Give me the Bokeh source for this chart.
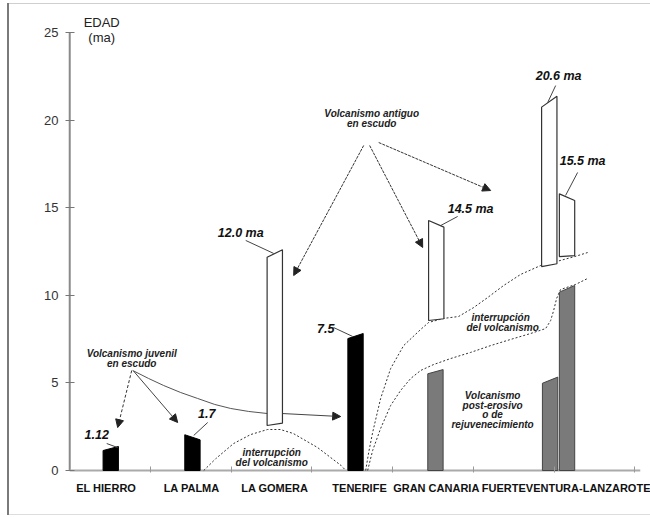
from bokeh.plotting import figure
from bokeh.models import Range1d, FixedTicker, Arrow, NormalHead, ColumnDataSource
from bokeh.core.properties import value
from bokeh.embed import file_html
from bokeh.resources import INLINE

# ---------------- data ----------------
islands = ["EL  HIERRO", "LA PALMA", "LA GOMERA", "TENERIFE", "GRAN CANARIA", "FUERTEVENTURA-LANZAROTE"]
island_pos = [0.47, 1.51, 2.54, 3.59, 4.54, 6.15]
sep_ticks = [1, 2, 3, 4, 5, 6, 7]
y_ticks = [0, 5, 10, 15, 20, 25]
x_end = 7.07

# juvenile shield volcanism (black)
juv_x = [0.508, 1.52, 3.54]
juv_top_left = [1.14, 2.04, 7.53]
juv_top_right = [1.37, 1.75, 7.82]
juv_labels = ["1.12", "1.7", "7.5"]

# old shield volcanism (white)
old_x = [2.54, 4.54, 5.94, 6.16]
old_bottom_left = [2.57, 8.56, 11.64, 12.21]
old_bottom_right = [2.70, 8.66, 11.80, 12.27]
old_top_left = [12.17, 14.27, 20.74, 15.79]
old_top_right = [12.60, 13.89, 21.36, 15.41]
old_labels = ["12.0 ma", "14.5 ma", "20.6 ma", "15.5 ma"]

# post-erosive / rejuvenation volcanism (grey)
post_x = [4.53, 5.95, 6.16]
post_top_left = [5.52, 4.98, 10.18]
post_top_right = [5.76, 5.33, 10.56]

bar_w = 0.19

# hiatus curves (dotted)
gap1_x = [1.66, 1.81, 2.03, 2.24, 2.45, 2.61, 2.77, 3.07, 3.36, 3.42]
gap1_y = [0, 0.68, 1.54, 2.05, 2.34, 2.34, 2.11, 1.31, 0.29, 0]
gap_up_x = [3.666, 3.703, 3.752, 3.851, 3.975, 4.136, 4.347, 4.446, 4.632, 4.817,
            5.003, 5.176, 5.375, 5.585, 5.833, 6.031, 6.254, 6.415]
gap_up_y = [0, 1.03, 2.17, 4.11, 5.82, 7.13, 8.05, 8.45, 8.68, 8.79,
            9.30, 9.87, 10.56, 11.19, 11.70, 11.93, 12.21, 12.44]
gap_lo_x = [3.690, 3.752, 3.851, 3.975, 4.099, 4.223, 4.347, 4.508, 4.718, 4.966,
            5.214, 5.461, 5.709, 5.895, 5.957, 5.994, 6.031, 6.080, 6.266, 6.415]
gap_lo_y = [0, 1.14, 2.40, 3.71, 4.57, 5.25, 5.71, 6.05, 6.39, 6.74,
            7.13, 7.48, 7.82, 8.10, 8.56, 9.13, 9.82, 10.33, 10.62, 10.96]
# thin solid curve from the juvenile label towards La Gomera
juv_curve_x = [0.780, 0.978, 1.164, 1.375, 1.585, 1.796, 1.994, 2.217, 2.452, 2.638]
juv_curve_y = [5.71, 5.25, 4.85, 4.45, 4.11, 3.77, 3.54, 3.37, 3.25, 3.25]

# ---------------- figure ----------------
p = figure(width=650, height=517, x_range=Range1d(-0.04, x_end), y_range=Range1d(-0.114, 26.826),
           output_backend="svg", toolbar_location=None,
           min_border_left=66, min_border_right=10, min_border_top=0, min_border_bottom=45)
p.grid.visible = False
p.outline_line_color = None
p.background_fill_color = None
p.border_fill_color = None
p.styles = {
    "background": ("linear-gradient(#7a7a7a,#7a7a7a) 7px 3px / 2px 512px no-repeat, "
                   "linear-gradient(#cfcfcf,#cfcfcf) 7px 3px / 643px 1px no-repeat, "
                   "linear-gradient(#dddddd,#dddddd) 7px 514px / 643px 1px no-repeat, white"),
}

# y axis (line drawn as a glyph below)
p.yaxis.ticker = FixedTicker(ticks=y_ticks, minor_ticks=[])
p.yaxis.axis_line_color = None
p.yaxis.major_tick_line_color = "#777"
p.yaxis.major_tick_in = 8
p.yaxis.major_tick_out = 1
p.yaxis.minor_tick_line_color = None
p.yaxis.major_label_text_font = "Liberation Sans"
p.yaxis.major_label_text_font_size = "13px"
p.yaxis.major_label_text_color = "#333"
p.yaxis.major_label_standoff = 7

# x axis
p.xaxis.ticker = FixedTicker(ticks=island_pos, minor_ticks=sep_ticks)
p.xaxis.major_label_overrides = {pos: name for pos, name in zip(island_pos, islands)}
p.xaxis.axis_line_color = None
p.xaxis.major_tick_in = 0
p.xaxis.major_tick_out = 0
p.xaxis.minor_tick_in = 6
p.xaxis.minor_tick_out = 0
p.xaxis.minor_tick_line_color = "#999"
p.xaxis.major_label_text_font = "Liberation Sans"
p.xaxis.major_label_text_font_style = "bold"
p.xaxis.major_label_text_font_size = "11px"
p.xaxis.major_label_text_color = "#111"
p.xaxis.major_label_standoff = 9

# axis lines
p.segment([0], [y_ticks[0]], [0], [y_ticks[-1]], line_color="#8a8a8a", line_width=2)
p.segment([0], [0], [x_end], [0], line_color="#aaaaaa", line_width=2)

# ---------------- curves ----------------
dot = dict(line_color="#333", line_width=1, line_dash="2 2")
p.line(gap1_x, gap1_y, **dot)
p.line(gap_up_x, gap_up_y, **dot)
p.line(gap_lo_x, gap_lo_y, **dot)
p.line(juv_curve_x, juv_curve_y, line_color="#555", line_width=1)

# ---------------- bars ----------------
def quads(xc, bl, br, tl, tr):
    xs, ys = [], []
    for c, a, b, d, e in zip(xc, bl, br, tl, tr):
        xs.append([c - bar_w / 2, c + bar_w / 2, c + bar_w / 2, c - bar_w / 2])
        ys.append([a, b, e, d])
    return xs, ys

xs, ys = quads(juv_x, [0] * len(juv_x), [0] * len(juv_x), juv_top_left, juv_top_right)
p.patches(xs, ys, fill_color="black", line_color="black", line_width=1)
xs, ys = quads(old_x, old_bottom_left, old_bottom_right, old_top_left, old_top_right)
p.patches(xs, ys, fill_color="white", line_color="#333", line_width=1.2)
xs, ys = quads(post_x, [0] * len(post_x), [0] * len(post_x), post_top_left, post_top_right)
p.patches(xs, ys, fill_color="#7a7a7a", line_color="#444", line_width=1)

# ---------------- leader lines ----------------
lead_x0 = [0.458, 1.709, 3.269, 2.180, 4.805, 6.019, 6.291]
lead_y0 = [1.54, 2.74, 8.16, 13.13, 14.50, 21.97, 17.01]
lead_x1 = [0.594, 1.536, 3.505, 2.526, 4.594, 5.920, 6.142]
lead_y1 = [1.31, 2.00, 7.65, 12.39, 13.98, 21.00, 15.70]
p.segment(lead_x0, lead_y0, lead_x1, lead_y1, line_color="#444", line_width=1)

# ---------------- arrows ----------------
head = lambda: NormalHead(size=8, fill_color="#222", line_color="#222")
p.add_layout(Arrow(end=head(), x_start=0.768, y_start=5.71, x_end=0.594, y_end=2.45,
                   line_color="#333", line_width=1, line_dash="3 2"))
p.add_layout(Arrow(end=head(), x_start=0.790, y_start=5.68, x_end=1.337, y_end=2.74,
                   line_color="#444", line_width=1))
p.add_layout(Arrow(end=head(), x_start=2.638, y_start=3.25, x_end=3.356, y_end=3.08,
                   line_color="#444", line_width=1))
arr_src = ColumnDataSource(dict(x0=[3.641, 3.715, 3.827], y0=[18.55, 18.55, 18.72],
                                x1=[2.774, 4.372, 5.214], y1=[11.13, 12.73, 15.98]))
p.add_layout(Arrow(end=head(), source=arr_src, x_start="x0", y_start="y0", x_end="x1", y_end="y1",
                   line_color="#333", line_width=1, line_dash="3 1"))

# ---------------- texts ----------------
val_x = [0.334, 1.697, 3.170, 2.118, 4.966, 6.056, 6.353]
val_y = [2.05, 3.25, 8.10, 13.58, 14.95, 22.49, 17.64]
p.text(val_x, val_y, text=juv_labels + old_labels, text_font=value("Liberation Sans"),
       text_font_style="bold italic", text_font_size="12.5px", text_align="center",
       text_baseline="middle", text_color="#111")

note_txt = ["Volcanismo juvenil", "en escudo", "Volcanismo antiguo", "en escudo",
            "interrupción", "del volcanismo", "interrupción", "del volcanismo",
            "Volcanismo", "post-erosivo", "o de", "rejuvenecimiento"]
note_x = [0.768, 0.768, 3.740, 3.740, 2.502, 2.502, 5.337, 5.362, 5.238, 5.238, 5.238, 5.238]
note_y = [6.68, 6.11, 20.38, 19.81, 1.03, 0.46, 8.73, 8.16, 4.28, 3.71, 3.20, 2.63]
p.text(note_x, note_y, text=note_txt, text_font=value("Liberation Sans"),
       text_font_style="bold italic", text_font_size="10px", text_align="center",
       text_baseline="middle", text_color="#222")

p.text([0.396, 0.396], [25.57, 24.71], text=["EDAD", "(ma)"], text_font=value("Liberation Sans"),
       text_font_size="13px", text_align="center", text_baseline="middle", text_color="#222")

open("out.html", "w").write(file_html(p, INLINE))
